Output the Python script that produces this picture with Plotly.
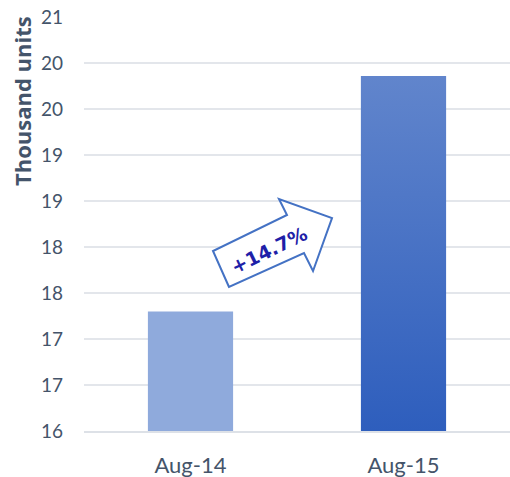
import base64
import plotly.graph_objects as go

categories = ["Aug-14", "Aug-15"]
values = [17.30, 19.86]
tick_vals = [16, 16.5, 17, 17.5, 18, 18.5, 19, 19.5, 20, 20.5]
tick_text = ["16", "17", "17", "18", "18", "19", "19", "20", "20", "21"]
bar_colors = ["#8faadc", "#4a72c5"]
gradient_top, gradient_bottom = "#6185cc", "#2e5ebd"
change_label = "+14.7%"
y_min, y_max = 16, 20.5
bar_width = 0.4

W, H = 510, 477
L, R, T, B = 84, 0, 17, 46
pw, ph = W - L - R, H - T - B

def px(x, y):
    return (x - L) / pw, (H - B - y) / ph

arrow_pts = [(229, 287), (213, 251), (287, 215), (279, 199), (332, 218), (313, 271), (304, 253)]
path = "M " + " L ".join(f"{px(x, y)[0]:.4f},{px(x, y)[1]:.4f}" for x, y in arrow_pts) + " Z"

svg = (
    '<svg xmlns="http://www.w3.org/2000/svg" width="100" height="100" preserveAspectRatio="none">'
    '<defs><linearGradient id="g" x1="0" y1="0" x2="0" y2="1">'
    f'<stop offset="0" stop-color="{gradient_top}"/><stop offset="1" stop-color="{gradient_bottom}"/>'
    '</linearGradient></defs><rect width="100" height="100" fill="url(#g)"/></svg>'
)
svg_uri = "data:image/svg+xml;base64," + base64.b64encode(svg.encode()).decode()

fig = go.Figure(go.Bar(x=categories, y=values, marker=dict(color=bar_colors, line=dict(width=0)),
                       width=bar_width))

fig.update_layout(
    width=W, height=H,
    margin=dict(l=L, r=R, t=T, b=B, autoexpand=False),
    plot_bgcolor="white", paper_bgcolor="white",
    font=dict(family="Lato, Open Sans, sans-serif", color="#595959", size=18),
    showlegend=False,
    bargap=0.6,
    images=[dict(source=svg_uri, xref="x", yref="y", x=1, y=values[1],
                 sizex=bar_width, sizey=values[1] - y_min, xanchor="center", yanchor="top",
                 sizing="stretch", layer="above")],
    shapes=[dict(type="path", xref="paper", yref="paper", path=path,
                 fillcolor="white", line=dict(color="#4472c4", width=2), layer="above")],
    annotations=[
        dict(text="<b>Thousand units</b>", xref="paper", yref="paper",
             x=px(22, 101)[0], y=px(22, 101)[1], textangle=-90, showarrow=False,
             font=dict(size=22, color="#44546a", family="Open Sans"), xanchor="center", yanchor="middle"),
        dict(text=f"<b>{change_label}</b>", xref="paper", yref="paper",
             x=px(269, 250)[0], y=px(269, 250)[1], textangle=-26, showarrow=False,
             font=dict(size=19, color="#1f1fa8", family="DejaVu Sans"),
             xanchor="center", yanchor="middle"),
    ],
)
fig.update_yaxes(range=[y_min, y_max], tickvals=tick_vals, ticktext=tick_text, automargin=False,
                 showgrid=True, gridcolor="#e3e6eb", gridwidth=2, zeroline=False,
                 showline=False, ticks="", ticklabelstandoff=20,
                 tickfont=dict(color="#44546a", size=19))
fig.update_xaxes(showline=True, linecolor="#dde1e7", linewidth=2, ticks="", automargin=False,
                 ticklabelstandoff=14, tickfont=dict(color="#44546a", size=22))

fig.write_html("out.html", config={"displayModeBar": False},
               post_script="document.body.style.margin='0';")
